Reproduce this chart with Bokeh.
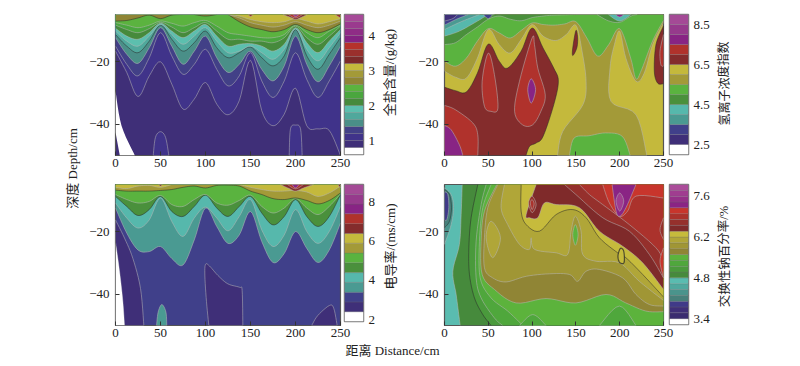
from bokeh.plotting import figure
from bokeh.layouts import row, column
from bokeh.models import FixedTicker, Label, LinearAxis, Range1d
from bokeh.embed import file_html
from bokeh.resources import INLINE

GRID = [0, 12.5, 25, 37.5, 50, 62.5, 75, 87.5, 100, 112.5, 125, 137.5, 150, 162.5, 175, 187.5, 200, 212.5, 225, 237.5, 250]
X_TICKS = [0, 50, 100, 150, 200, 250]
Y_TICKS = [-20, -40]

# ---------- total salt, g/kg ----------
SALT_LEVELS = [0.6, 0.8, 1.0, 1.2, 1.4, 1.6, 1.8, 2.0, 2.2, 2.4, 2.6, 2.8, 3.0, 3.2, 3.4, 3.6, 3.8, 4.0, 4.2, 4.4, 4.6]
SALT_TICKS = [1, 2, 3, 4]
salt_08 = [-16.7, -23.5, -31.2, -24.6, -20.1, -27.2, -35.2, -32, -26.7, -33.6, -37, -32.5, -19.6, -35.7, -40.5, -36.8, -28.5, -40.5, -41.5, -42, -50]
salt_10 = [-15.1, -20.9, -24.6, -18.8, -10.8, -18.2, -24.1, -20.9, -16.1, -22.5, -27.8, -24.6, -17.2, -26.2, -31.5, -26.2, -17.2, -25.7, -31.5, -26.2, -19.8]
salt_12 = [-12.4, -17.7, -20.6, -15.6, -9.2, -15.1, -20.9, -16.7, -11.9, -18.8, -23.5, -20.9, -16.7, -22.5, -26.2, -21.4, -11.9, -20.9, -26.5, -21.4, -15.1]
salt_14 = [-11.4, -15.1, -17.2, -13.5, -8.4, -12.9, -16.7, -14, -10.3, -15.6, -18.8, -17.2, -15.4, -18.8, -21.4, -18.2, -9.8, -18.2, -22.5, -17.7, -12.4]
salt_16 = [-10.3, -13.5, -15.1, -11.9, -8.2, -11.4, -14.5, -11.9, -9.2, -13.5, -17.2, -16.7, -15.1, -17.2, -19.3, -16.1, -9.6, -16.1, -19.8, -15.6, -10.8]
salt_18 = [-9.4, -11.9, -12.9, -10.8, -7.8, -10.3, -12.4, -10.3, -8.2, -11.9, -15.1, -14.5, -14.3, -15.1, -16.7, -14.5, -9.2, -14, -17.2, -13.5, -9.8]
salt_20 = [-8.4, -9.8, -10.8, -9.5, -7.5, -9, -10.8, -9.2, -7.6, -10.3, -12.9, -12.9, -13.5, -13.5, -14, -12.4, -8.7, -12.4, -14.5, -11.9, -8.7]
salt_22 = [-7.6, -8.4, -9.2, -8.4, -7.1, -7.8, -8.7, -7.6, -6.9, -8.7, -10.8, -11.4, -11.9, -12.4, -12.4, -11.4, -8.4, -10.8, -12.4, -10.3, -8.4]
salt_24 = [-7.1, -6.9, -6.1, -5.2, -6.3, -5.2, -5, -5, -5.5, -5, -5, -7.3, -9, -9.8, -10.5, -9.8, -8.2, -9.8, -10.8, -9.8, -8]
salt_26 = [-5, -5, -5, -5, -5, -5, -5, -5, -5, -5, -5, -6.1, -7.6, -8.4, -9, -8.4, -7.3, -8.4, -9.2, -8.4, -7.1]
salt_28 = [-5, -5, -5, -5, -5, -5, -5, -5, -5, -5, -5, -5.5, -6.6, -7.3, -7.6, -7.3, -6.3, -7.1, -8, -7.3, -6.3]
salt_white = ([0, 6.7, 21.5, 4.8, 0], [-29.4, -40.5, -50, -50, -42.6])
salt_b50 = ([41.9, 44.4, 50, 55.6, 59.3], [-50, -44.2, -42.4, -44.2, -50])
salt_b200 = ([193, 194.4, 200, 205.6, 207.4], [-50, -41.5, -40.3, -41.5, -50])
salt_r150 = ([147.4, 150, 153], [-5, -5.6, -5])
salt_r200 = ([186, 196, 200, 205, 213], [-5, -6.1, -6.6, -6.1, -5])
salt_r200b = ([192, 200, 208], [-5, -6.1, -5])
salt_m200 = ([197, 200, 204], [-5, -5.7, -5])
salt_rend = ([243.7, 250, 250], [-5, -6.1, -5])

# ---------- hydrogen ion exponent ----------
PH_LEVELS = [2.0, 2.5, 3.0, 3.5, 4.0, 4.5, 5.0, 5.5, 6.0, 6.5, 7.0, 7.5, 8.0, 8.5, 9.0]
PH_TICKS = [2.5, 4.5, 6.5, 8.5]
ph_olive_x = [0, 12.5, 25, 37.6, 50, 62.4, 75, 87.5, 100, 112.5, 127, 139, 150, 157, 161.6, 158, 135, 129, 231, 218.6, 190, 189, 194, 200, 207, 218.6, 228, 237.6, 250, 250, 0]
ph_olive_d = [-23.1, -25, -25.3, -18.9, -9.8, -14.6, -17.3, -13, -8.2, -11.9, -13.3, -11.4, -8.4, -16.7, -26.3, -33.8, -42.3, -50, -50, -37, -32.7, -22, -14.6, -10.3, -18.9, -26.3, -23.7, -14.6, -7.7, -5, -5]
ph_green_x = [0, 12.5, 25, 37.5, 50, 62.5, 75, 87.5, 100, 112.5, 125, 137.5, 150, 162.5, 175, 187.5, 200, 212.5, 218.5, 225, 237.5, 250]
ph_green_d = [-19.9, -21.5, -18.9, -13.5, -9.5, -10.9, -12.5, -10.1, -7.7, -8.2, -8.4, -8, -7.3, -12.5, -18.3, -14.6, -9.5, -18.9, -25.5, -22.6, -13.5, -6.9]
ph_dkgreen_x = [0, 12.5, 25, 37.5, 50, 62.5, 75, 87.5, 100, 112.5, 125, 150, 175]
ph_dkgreen_d = [-14.6, -14, -11.4, -9, -6.5, -5.5, -6.5, -7, -6, -5.5, -5.2, -5, -5]
ph_teal = ([0, 17, 37.6, 47.5, 57, 0], [-11.9, -10.3, -7.1, -5.5, -5, -5])
ph_dkteal = ([0, 19, 40, 0], [-9.8, -7.3, -5, -5])
ph_indigo = ([0, 13, 27, 0], [-8.4, -6.6, -5, -5])
ph_purple = ([0, 9.5, 15, 0], [-7.1, -6.3, -5, -5])
ph_top50 = ([44, 50, 55], [-5, -6.3, -5])
ph_dk200 = ([174, 187, 200, 213, 220], [-5, -7, -7.5, -5.5, -5])
ph_teal200 = ([187, 200, 213], [-5, -7.1, -5])
ph_m200 = ([195, 200, 205], [-5, -5.8, -5])
ph_red_main = ([0, 12.5, 25, 37.6, 50, 62.4, 72, 87.5, 100, 112.5, 124.7, 130, 124.7, 112.5, 104.6, 97, 93, 0],
               [-28.2, -29.3, -29.7, -23.7, -14.4, -19.9, -22.1, -16.7, -9.3, -15.7, -22.1, -26.3, -33.8, -43.9, -46, -47.1, -50, -50])
ph_red_right = ([250, 241.4, 239.5, 243.3, 250], [-8.7, -14.6, -23.1, -26.9, -27.1])
ph_red2_right = ([250, 246, 247, 250], [-11.4, -16.7, -21, -21.5])
ph_red_150 = ([150, 146.4, 146.4, 151, 152], [-10.1, -15.7, -18.1, -15.7, -12.5])
ph_red2_ll = ([0, 12.5, 32.3, 38, 38, 0], [-34, -35.4, -39.6, -43.4, -50, -50])
ph_m_ll = ([0, 7.6, 17, 21, 0], [-40.4, -41.8, -46.6, -50, -50])
ph_red2_50 = ([50, 43, 45.6, 53, 61, 57], [-17.3, -26.3, -34.3, -35.9, -34.9, -24.2])
ph_red2_100 = ([100, 85.6, 80, 89, 100.7, 110, 115, 106.5, 102.7], [-12.5, -26.3, -35.9, -40.2, -40.2, -35.9, -30.6, -22.1, -14.6])
ph_m_100 = ([99, 95, 99, 104], [-25.5, -29, -33.3, -29])
ph_green_low = ([142.6, 148, 165, 184, 203, 212], [-50, -44.4, -43.7, -42.8, -43.9, -50])

# ---------- conductivity, ms/cm ----------
EC_LEVELS = [1.9, 2.4, 2.9, 3.4, 3.9, 4.4, 4.9, 5.4, 5.9, 6.4, 6.9, 7.4, 7.9, 8.4, 8.9]
EC_TICKS = [2, 4, 6, 8]
ec_34 = [-12.5, -20.5, -25.9, -26.4, -24.8, -28.6, -30.7, -22.7, -12.5, -18.4, -23.8, -21.1, -13.6, -23.2, -29.9, -27, -20, -25.4, -29.9, -25.9, -17.3]
ec_39 = [-10.9, -15.7, -18.9, -16.3, -9.3, -16.8, -21.6, -15.7, -12.2, -15.7, -19.8, -15.2, -9.8, -19.5, -24.8, -21.1, -13, -20, -23.8, -20, -12]
ec_44 = [-8.8, -12, -14.9, -13, -8.8, -13.6, -15.2, -12, -8.4, -12.5, -15.2, -12, -8.8, -14.1, -17.9, -15.2, -9.8, -15.2, -18.4, -15.2, -8.2]
ec_49 = [-8.2, -9.8, -10.9, -10.4, -8.5, -11.4, -12, -9.8, -8.2, -10.9, -11.6, -10.1, -8.4, -12, -14.1, -12.5, -9.5, -12.5, -14.6, -12, -8]
ec_54 = [-6.8, -7.1, -7.1, -7.1, -6.9, -6.6, -5.9, -5.5, -6.1, -5.3, -5.2, -5.5, -7.1, -8.2, -9.5, -9.8, -9.3, -10.1, -11.2, -10.1, -7.7]
ec_59 = [-5.9, -6.3, -5.5, -5.3, -5.9, -5, -5, -5, -5, -5, -5, -5, -5.9, -6.6, -7.1, -7.1, -6.9, -7.4, -8.8, -7.7, -5.5]
ec_white = ([0, 4.4, 8.1, 10, 0], [-23.4, -32.5, -42.1, -50, -50])
ec_low_a = ([0, 10, 19.3, 27.8, 31.5, 10, 8.1, 4.4, 0], [-16.3, -22.1, -28.6, -38.2, -50, -50, -42.1, -32.5, -23.4])
ec_low_b = ([100, 104.4, 113.7, 124.8, 137.8, 140.7, 141.5, 103.7, 101.1, 99.3], [-30.5, -31, -34, -36.7, -37.8, -38.8, -50, -50, -42.4, -34.2])
ec_low_c = ([218, 224.8, 237.8, 242.6, 246.3], [-50, -46.8, -43.6, -44.6, -50])
ec_teal_low = ([45.6, 47.4, 51.5, 56, 57], [-50, -45.7, -43.3, -45.7, -50])
ec_r200 = ([183, 193, 200, 209, 220], [-5, -6.3, -7.1, -6.1, -5])
ec_r200b = ([191, 200, 209], [-5, -6.4, -5])
ec_m200 = ([196, 200, 204], [-5, -6.1, -5])
ec_rend = ([247, 250, 250], [-5, -6.1, -5])
ec_r50 = ([48, 50, 52], [-5, -5.5, -5])

# ---------- exchangeable sodium, % ----------
ESP_LEVELS = [3.2, 3.4, 3.6, 3.8, 4.0, 4.2, 4.4, 4.6, 4.8, 5.0, 5.2, 5.4, 5.6, 5.8, 6.0, 6.2, 6.4, 6.6, 6.8, 7.0, 7.2, 7.4, 7.6, 7.8, 8.0]
ESP_TICKS = [3.4, 4.8, 6.2, 7.6]
esp_a = ([20.2, 19, 17, 9.5, 13.3, 16.3, 17.9], [-5, -14.6, -24.1, -32.7, -40.1, -46.5, -50])
esp_b = ([38, 30.4, 27.8, 28.5, 34.2, 43.7, 53.2], [-5, -15.6, -25.2, -33.7, -41.2, -46.5, -50])
esp_c = ([47.5, 41.8, 36.1, 36.1, 41.8, 57, 66.5], [-5, -11.4, -23.1, -34.8, -41.2, -47.6, -50])
esp_d = ([53.2, 43.7, 39.9, 40.7, 53.2, 72.2, 89.4], [-5, -12.4, -23.1, -34.8, -41.2, -45.4, -50])
esp_e = ([59.7, 45.6, 41.8, 43, 57, 81.7, 116, 150, 184.4, 207, 230, 250], [-5, -13.5, -23.1, -33.7, -38.5, -42.8, -41.4, -42.8, -40.1, -42.8, -45.4, -45.6])
esp_f = ([60.8, 49.4, 45.6, 45.6, 55, 70.3, 93.2, 119.8, 142.6, 152, 161.6, 176.8, 203.4, 218.6, 233.8, 250],
         [-5, -12.4, -22, -31.6, -34.8, -36.1, -34.3, -33.5, -33.7, -35.9, -32.7, -32.1, -34.8, -40.1, -43.3, -43.8])
esp_g = ([68.4, 64.6, 72.2, 85.6, 97, 98.9, 102.7, 127.4, 140.7, 144.5, 149.4, 155.9, 157.8, 173, 199.6, 222.4, 250],
         [-5, -12.4, -17.8, -24.1, -25.7, -22, -25.7, -26.8, -27.3, -19.9, -15.1, -19.9, -27.3, -29.5, -30, -35.9, -42])
esp_h = ([87.5, 87.5, 93.2, 108.4, 127.4, 146.4, 161.6, 176.8, 197.7, 207.2, 226.2, 250],
         [-5, -13.5, -17.8, -19.9, -14.6, -13, -15.6, -22, -26.8, -28.4, -33.7, -40.9])
esp_i = ([104.6, 93.2, 97, 106.5, 114, 127.4, 154, 176.8, 203.4, 226.2, 250],
         [-5, -14.6, -15.6, -15.6, -10.9, -11.4, -12.4, -19.9, -24.7, -30, -38.5])
esp_j = ([136.9, 150, 180.6, 211, 233.8, 250], [-5, -8.2, -15.6, -19.9, -27.3, -34.8])
esp_k = ([154, 165.4, 180.6, 211, 241.4, 250], [-5, -8.2, -11.4, -17.8, -25.2, -29.5])
esp_l = ([180.6, 188.2, 199.6, 209, 218.6, 250], [-5, -10.9, -15.1, -13.5, -8.7, -9.3])
esp_m200 = ([191.3, 195.8, 200.4, 207.2, 218.6], [-5, -13.5, -15.1, -12.4, -5])
esp_m200b = ([200, 195.8, 200, 204.6], [-7.7, -10.3, -13.5, -10.3])
esp_t1 = ([0, 7.6, 10.3, 7.6, 0], [-6, -8.2, -12.4, -17.8, -24.1])
esp_t2 = ([0, 5.7, 8, 5.7, 0], [-6.6, -8.2, -12.4, -16.7, -18.8])
esp_p = ([0, 3.8, 4.9, 2.7, 0], [-7.3, -8.2, -12.4, -16.2, -16.2])
esp_r100 = ([100, 96, 100, 104.6], [-8.7, -10.9, -14, -11.4])
esp_r100b = ([100, 98, 100, 102.3], [-9.8, -10.9, -13, -11.2])
esp_g150 = ([149.4, 146.4, 149.4, 152.5], [-17.8, -21, -24.4, -21])
esp_o50 = ([53.2, 47.5, 55, 63.9], [-16.7, -22, -28.4, -22])
esp_gb100 = ([85.6, 100.8, 116], [-50, -46.5, -50])
esp_gb200 = ([176.8, 199.6, 218.6], [-50, -43.8, -50])
esp_re1 = ([250, 246, 250], [-15.6, -19.4, -22.6])
esp_re2 = ([250, 246, 250], [-25.2, -29.5, -34.8])
esp_loop = ([200.8, 204.6, 205, 200, 198], [-25.4, -26.3, -29.9, -29.9, -27.8])

# ---------- palettes ----------
PAL_SALT = ["#ffffff", "#3f2f78", "#40338a", "#424087", "#4a8f88", "#50a89c", "#5cbfae", "#468a3c", "#4aa63e", "#5bb33f",
            "#8f8535", "#a39a38", "#c4b93c", "#7d2a2a", "#9a2f2c", "#b5322c", "#842282", "#8f2c86", "#9a3a8e", "#a64a98"]
PAL_14 = ["#ffffff", "#3f2f78", "#40408a", "#4a9a92", "#56b8ac", "#4a903c", "#5ab33f", "#a39a38", "#c4b93c", "#842c2c",
          "#b0322c", "#882484", "#963a8c", "#a44a96"]
PAL_ESP = ["#ffffff", "#3a2c70", "#3f2f78", "#403a88", "#47807a", "#4a948c", "#50a89e", "#5abcb0", "#468a3c", "#4a9a3c",
           "#4fa73c", "#5cb33c", "#908535", "#a09635", "#b0a638", "#c6bb3c", "#7f2a2a", "#95302c", "#ab322c", "#c8352c",
           "#8a2484", "#953088", "#a03d90", "#ab4c9a"]

SERIF = "Liberation Serif, Noto Sans CJK SC"
FRAME = "#555555"
LINE = "#b9b9b9"
DARK = "#2a2a2a"
STEPS = 6
LAP = 14


def on_edge(a, b):
    return (a[0] == b[0] and a[0] in (0, 250)) or (a[1] == b[1] and a[1] in (-5, -50))


def smooth(xs, ds, closed=False):
    pts = list(zip(xs, ds))
    n = len(pts)
    out_x, out_d = [], []
    for i in range(n if closed else n - 1):
        p1, p2 = pts[i], pts[(i + 1) % n]
        if on_edge(p1, p2):
            out_x.append(p1[0])
            out_d.append(p1[1])
            continue
        p0 = pts[(i - 1) % n] if (closed or i > 0) else p1
        p3 = pts[(i + 2) % n] if (closed or i + 2 < n) else p2
        if on_edge(p0, p1):
            p0 = p1
        if on_edge(p2, p3):
            p3 = p2
        for s in range(STEPS):
            t = s / STEPS
            c = [0.5 * (2 * p1[k] + (p2[k] - p0[k]) * t + (2 * p0[k] - 5 * p1[k] + 4 * p2[k] - p3[k]) * t * t
                        + (3 * p1[k] - p0[k] - 3 * p2[k] + p3[k]) * t ** 3) for k in (0, 1)]
            out_x.append(c[0])
            out_d.append(c[1])
    if not closed:
        out_x.append(pts[-1][0])
        out_d.append(pts[-1][1])
    return out_x, out_d


def base_axes(p):
    for ax in p.xaxis + p.yaxis:
        ax.major_label_text_font = SERIF
        ax.major_label_text_font_size = "13px"
        ax.major_label_text_color = "#222222"
        ax.axis_line_color = None
        ax.major_tick_line_color = "#333333"
        ax.major_tick_in = 4
        ax.major_tick_out = 0
        ax.minor_tick_line_color = None
    for ax in p.xaxis:
        ax.major_label_standoff = 3
    for ax in p.yaxis:
        ax.major_label_standoff = 6
    p.grid.visible = False
    p.outline_line_color = FRAME
    p.outline_line_width = 1.2


def panel(fw, left, top, bottom, right=2 + LAP):
    p = figure(width=left + fw + right, height=top + 141 + bottom, frame_width=fw, frame_height=141,
               min_border_left=left, min_border_right=right, min_border_top=top, min_border_bottom=bottom,
               x_range=Range1d(0, 250), y_range=Range1d(-50, -5), output_backend="svg", toolbar_location=None)
    p.xaxis.ticker = FixedTicker(ticks=X_TICKS)
    p.yaxis.ticker = FixedTicker(ticks=Y_TICKS)
    base_axes(p)
    return p


def fill(p, xy, color, line=LINE, width=0.7):
    """closed contour patch"""
    xs, ds = smooth(xy[0], xy[1], closed=True)
    p.patch(xs, ds, fill_color=color, line_color=line, line_width=width, line_alpha=0.75)


def above(p, xs, ds, color, line=LINE, width=0.7, close=None):
    """region on the high side of a contour curve, closed round the frame corners"""
    cx, cd = close if close else ([250, 0], [-5, -5])
    sx, sd = smooth(xs, ds)
    p.patch(sx + cx, sd + cd, fill_color=color, line_color=None)
    p.line(sx, sd, line_color=line, line_width=width, line_alpha=0.75)


def colorbar(levels, ticks, colors, left, top, height, width, bottom):
    p = figure(width=width, height=top + height + bottom, frame_width=19, frame_height=height,
               min_border_left=left, min_border_right=width - left - 19, min_border_top=top, min_border_bottom=bottom,
               x_range=Range1d(0, 1), y_range=Range1d(levels[0], levels[-1]), margin=(0, 0, 0, -LAP),
               output_backend="svg", toolbar_location=None, x_axis_location=None, y_axis_location=None)
    p.border_fill_color = None
    p.quad(left=0, right=1, bottom=levels[:-1], top=levels[1:], fill_color=colors, line_color="#6a6a6a", line_width=0.25)
    ax = LinearAxis(ticker=FixedTicker(ticks=ticks))
    ax.major_label_text_font = SERIF
    ax.major_label_text_font_size = "13px"
    ax.major_label_text_color = "#222222"
    ax.axis_line_color = None
    ax.major_tick_line_color = None
    ax.minor_tick_line_color = None
    ax.major_tick_in = 0
    ax.major_tick_out = 0
    ax.major_label_standoff = 5
    p.add_layout(ax, "right")
    p.grid.visible = False
    p.outline_line_color = "#808080"
    p.outline_line_width = 1.5
    return p


def text_fig(w, h, text, x, y, angle=0.0, size="13px"):
    f = figure(width=w, height=h, x_range=Range1d(0, 1), y_range=Range1d(0, 1), output_backend="svg",
               toolbar_location=None, min_border=0, x_axis_location=None, y_axis_location=None)
    f.outline_line_color = None
    f.grid.visible = False
    f.add_layout(Label(x=x, y=y, x_units="screen", y_units="screen", text=text, angle=angle, text_font=SERIF,
                       text_font_size=size, text_color="#222222", text_align="center", text_baseline="middle"))
    return f


# ---------- panel 1 ----------
p1 = panel(225, 28, 12, 19)
p1.background_fill_color = PAL_SALT[1]
for b, i in [(salt_08, 2), (salt_10, 3), (salt_12, 4)]:
    above(p1, GRID, b, PAL_SALT[i])
above(p1, GRID, salt_14, PAL_SALT[5], line=DARK)
for b, i in [(salt_16, 6), (salt_18, 7), (salt_20, 8), (salt_22, 9)]:
    above(p1, GRID, b, PAL_SALT[i])
above(p1, GRID, salt_24, PAL_SALT[10], line=DARK)
above(p1, GRID, salt_26, PAL_SALT[11])
above(p1, GRID, salt_28, PAL_SALT[12])
fill(p1, salt_white, "#ffffff", line=None)
fill(p1, salt_b50, PAL_SALT[2])
fill(p1, salt_b200, PAL_SALT[2])
fill(p1, salt_r150, PAL_SALT[14])
fill(p1, salt_r200, PAL_SALT[13])
fill(p1, salt_r200b, PAL_SALT[15])
fill(p1, salt_m200, PAL_SALT[18])
fill(p1, salt_rend, PAL_SALT[14])
c1 = colorbar(SALT_LEVELS, SALT_TICKS, PAL_SALT, 2, 14, 140, 40, 18)
l1 = text_fig(33, 172, "全盐含量/(g/kg)", 7, 81, 1.5708)

# ---------- panel 2 ----------
p2 = panel(219, 28, 12, 19)
p2.background_fill_color = PAL_14[8]
fill(p2, (ph_olive_x, ph_olive_d), PAL_14[7])
above(p2, ph_green_x, ph_green_d, PAL_14[6])
above(p2, ph_dkgreen_x, ph_dkgreen_d, PAL_14[5], close=([175, 0], [-5, -5]))
fill(p2, ph_teal, PAL_14[4])
fill(p2, ph_dkteal, PAL_14[3])
fill(p2, ph_indigo, PAL_14[2])
fill(p2, ph_purple, PAL_14[1])
fill(p2, ph_top50, PAL_14[2])
fill(p2, ph_dk200, PAL_14[5])
fill(p2, ph_teal200, PAL_14[4])
fill(p2, ph_m200, PAL_14[11])
fill(p2, ph_red_main, PAL_14[9], line=DARK)
fill(p2, ph_red_right, PAL_14[9], line=DARK)
fill(p2, ph_red2_right, PAL_14[10])
fill(p2, ph_red_150, PAL_14[9], line=DARK)
fill(p2, ph_red2_ll, PAL_14[10])
fill(p2, ph_m_ll, PAL_14[11])
fill(p2, ph_red2_50, PAL_14[10])
fill(p2, ph_red2_100, PAL_14[10])
fill(p2, ph_m_100, PAL_14[11])
fill(p2, ph_green_low, PAL_14[6])
c2 = colorbar(PH_LEVELS, PH_TICKS, PAL_14, 4, 14, 140, 49, 18)
l2 = text_fig(80, 172, "氢离子浓度指数", 10, 70, 1.5708, "12px")

# ---------- panel 3 ----------
p3 = panel(225, 28, 8, 17)
p3.background_fill_color = PAL_14[2]
above(p3, GRID, ec_34, PAL_14[3])
above(p3, GRID, ec_39, PAL_14[4])
above(p3, GRID, ec_44, PAL_14[5], line=DARK)
above(p3, GRID, ec_49, PAL_14[6])
above(p3, GRID, ec_54, PAL_14[7], line=DARK)
above(p3, GRID, ec_59, PAL_14[8])
fill(p3, ec_low_a, PAL_14[1])
fill(p3, ec_white, "#ffffff", line=None)
fill(p3, ec_low_b, PAL_14[1])
fill(p3, ec_low_c, PAL_14[1])
fill(p3, ec_teal_low, PAL_14[3])
fill(p3, ec_r200, PAL_14[9])
fill(p3, ec_r200b, PAL_14[10])
fill(p3, ec_m200, PAL_14[11])
fill(p3, ec_rend, PAL_14[9])
fill(p3, ec_r50, PAL_14[9])
c3 = colorbar(EC_LEVELS, EC_TICKS, PAL_14, 2, 12, 137, 40, 17)
l3 = text_fig(33, 166, "电导率/(ms/cm)", 8, 75, 1.5708)

# ---------- panel 4 ----------
p4 = panel(219, 28, 8, 17)
p4.background_fill_color = PAL_ESP[7]
BR = ([250, 250], [-50, -5])
TOP = ([250], [-5])
above(p4, *esp_a, PAL_ESP[8], close=BR)
above(p4, *esp_b, PAL_ESP[9], line=DARK, close=BR)
above(p4, *esp_c, PAL_ESP[10], close=BR)
above(p4, *esp_d, PAL_ESP[11], close=BR)
above(p4, *esp_e, PAL_ESP[12], close=TOP)
above(p4, *esp_f, PAL_ESP[13], close=TOP)
above(p4, *esp_g, PAL_ESP[14], close=TOP)
above(p4, *esp_h, PAL_ESP[15], line=DARK, close=TOP)
above(p4, *esp_i, PAL_ESP[16], close=TOP)
above(p4, *esp_j, PAL_ESP[17], close=TOP)
above(p4, *esp_k, PAL_ESP[18], close=TOP)
above(p4, *esp_l, PAL_ESP[19], close=TOP)
fill(p4, esp_m200, PAL_ESP[20])
fill(p4, esp_m200b, PAL_ESP[22])
fill(p4, esp_t1, PAL_ESP[5])
fill(p4, esp_t2, PAL_ESP[4], line=DARK)
fill(p4, esp_p, PAL_ESP[3])
fill(p4, esp_r100, PAL_ESP[17])
fill(p4, esp_r100b, PAL_ESP[18])
fill(p4, esp_g150, PAL_ESP[11])
fill(p4, esp_o50, PAL_ESP[14])
fill(p4, esp_gb100, PAL_ESP[10])
fill(p4, esp_gb200, PAL_ESP[10])
fill(p4, esp_re1, PAL_ESP[17])
fill(p4, esp_re2, PAL_ESP[19])
fill(p4, esp_loop, PAL_ESP[15], line=DARK, width=1.2)
c4 = colorbar(ESP_LEVELS, ESP_TICKS, PAL_ESP, 4, 12, 140, 49, 14)
l4 = text_fig(80, 166, "交换性钠百分率/%", 10, 65, 1.5708, "12.5px")

ylab = text_fig(86, 358, "深度 Depth/cm", 72, 190, 1.5708)
xlab = text_fig(706, 20, "距离 Distance/cm", 306, 8)

grid = row(ylab, column(row(p1, c1, l1, p2, c2, l2), row(p3, c3, l3, p4, c4, l4), xlab))
open("out.html", "w").write(file_html(grid, INLINE))
